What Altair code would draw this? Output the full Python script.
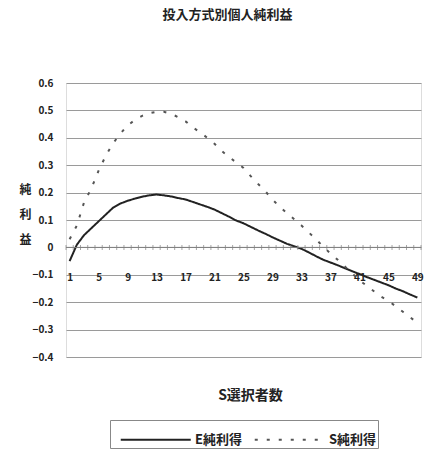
import altair as alt
import pandas as pd

# Number of S choosers (categories on the x axis)
choosers = list(range(1, 50))

# Individual net gain per choice method
e_gain = [-0.05, 0.01, 0.045, 0.07, 0.095, 0.12, 0.145, 0.16, 0.17, 0.178,
          0.185, 0.19, 0.193, 0.19, 0.186, 0.18, 0.175, 0.166, 0.157, 0.148,
          0.138, 0.125, 0.112, 0.098, 0.088, 0.075, 0.062, 0.05, 0.037, 0.025,
          0.013, 0.004, -0.005, -0.018, -0.032, -0.045, -0.055, -0.065, -0.076, -0.087,
          -0.097, -0.108, -0.118, -0.128, -0.138, -0.15, -0.16, -0.172, -0.183]
s_gain = [0.03, 0.08, 0.165, 0.215, 0.28, 0.335, 0.38, 0.415, 0.445, 0.465,
          0.48, 0.49, 0.495, 0.495, 0.488, 0.475, 0.46, 0.438, 0.42, 0.40,
          0.378, 0.352, 0.33, 0.31, 0.29, 0.26, 0.232, 0.205, 0.175, 0.148,
          0.125, 0.103, 0.08, 0.055, 0.03, 0.003, -0.022, -0.045, -0.07, -0.095,
          -0.12, -0.14, -0.16, -0.18, -0.195, -0.215, -0.235, -0.255, -0.275]

series_names = ["E純利得", "S純利得"]
x_labels = [1, 5, 9, 13, 17, 21, 25, 29, 33, 37, 41, 45, 49]
y_ticks = [round(v / 10, 1) for v in range(-4, 7)]

FONT = "Noto Sans CJK JP"
W, H = 355, 274
Y_MIN, Y_MAX = -0.4, 0.6

df = pd.concat([
    pd.DataFrame({"n": choosers, "gain": e_gain, "series": series_names[0]}),
    pd.DataFrame({"n": choosers, "gain": s_gain, "series": series_names[1]}),
])

x_scale = alt.Scale(domain=[0.5, 49.5], nice=False, zero=False)
y_scale = alt.Scale(domain=[Y_MIN, Y_MAX], nice=False)

# Long line samples in the legend: a path running right of the symbol centre
legend = alt.Legend(title=None, orient="none", legendX=44, legendY=337,
                    direction="horizontal", columns=2,
                    symbolType="M-0.5,0H3.5", symbolSize=1225, symbolStrokeWidth=2,
                    strokeColor="#888", padding=1, labelFont=FONT,
                    labelFontSize=13, labelFontWeight="bold",
                    labelColor="#222", labelOffset=47, columnPadding=3)

# Offset that lifts the category axis from the bottom edge up to y = 0
zero_offset = -H * (0 - Y_MIN) / (Y_MAX - Y_MIN)

x_enc = alt.X("n:Q", scale=x_scale, title="S選択者数",
              axis=alt.Axis(values=x_labels, grid=False, ticks=False, tickSize=0,
                            domain=False, offset=zero_offset, labelPadding=25,
                            labelOverlap=False,
                            labelFontSize=10, labelFont=FONT, labelFontWeight="bold",
                            labelColor="#222", titleFont=FONT, titleFontSize=14,
                            titleFontWeight="bold", titleColor="#222",
                            titlePadding=106, titleX=184))
y_enc = alt.Y("gain:Q", scale=y_scale, title=["純", "利", "益"],
              axis=alt.Axis(values=y_ticks, grid=True, gridColor="#9a9a9a",
                            ticks=False, tickSize=0, domain=False, labelPadding=13,
                            labelOverlap=False,
                            labelExpr="datum.value == 0 ? '0' : format(datum.value, '.1f')",
                            labelFontSize=10, labelFont=FONT, labelFontWeight="bold",
                            labelColor="#222", titleAngle=0, titleFont=FONT,
                            titleFontSize=12, titleFontWeight="bold", titleColor="#222",
                            titleLineHeight=25, titleX=-41, titleY=101,
                            titleBaseline="top", titleAlign="center"))

lines = alt.Chart(df).mark_line(strokeWidth=2).encode(
    x=x_enc,
    y=y_enc,
    color=alt.Color("series:N", scale=alt.Scale(domain=series_names, range=["#222222", "#555555"]),
                    legend=legend),
    strokeDash=alt.StrokeDash("series:N",
                              scale=alt.Scale(domain=series_names, range=[[1, 0], [3, 9]]),
                              legend=legend),
)

# Category axis through zero, with tick marks at category boundaries
boundaries = pd.DataFrame({"n": [c - 0.5 for c in choosers] + [choosers[-1] + 0.5],
                           "gain": 0.0})
zero_line = alt.Chart(boundaries).mark_rule(color="#808080", strokeWidth=1).encode(
    y=y_enc
).transform_filter("datum.n == 0.5")
zero_ticks = alt.Chart(boundaries).mark_tick(orient="vertical", size=5, thickness=1,
                                             color="#808080").encode(
    x=x_enc,
    y=y_enc,
)

chart = alt.layer(lines, zero_line, zero_ticks).properties(
    width=W, height=H,
    padding={"left": 66, "top": 83, "right": 11, "bottom": 97},
    autosize=alt.AutoSizeParams(type="none"),
    title=alt.TitleParams("投入方式別個人純利益", font=FONT, fontSize=13,
                          fontWeight="bold", color="#222", offset=56, dx=-16),
).configure_view(stroke="#666", strokeWidth=1.5).configure(background="white")

chart.save("out.html", embed_options={"renderer": "svg", "actions": False})
